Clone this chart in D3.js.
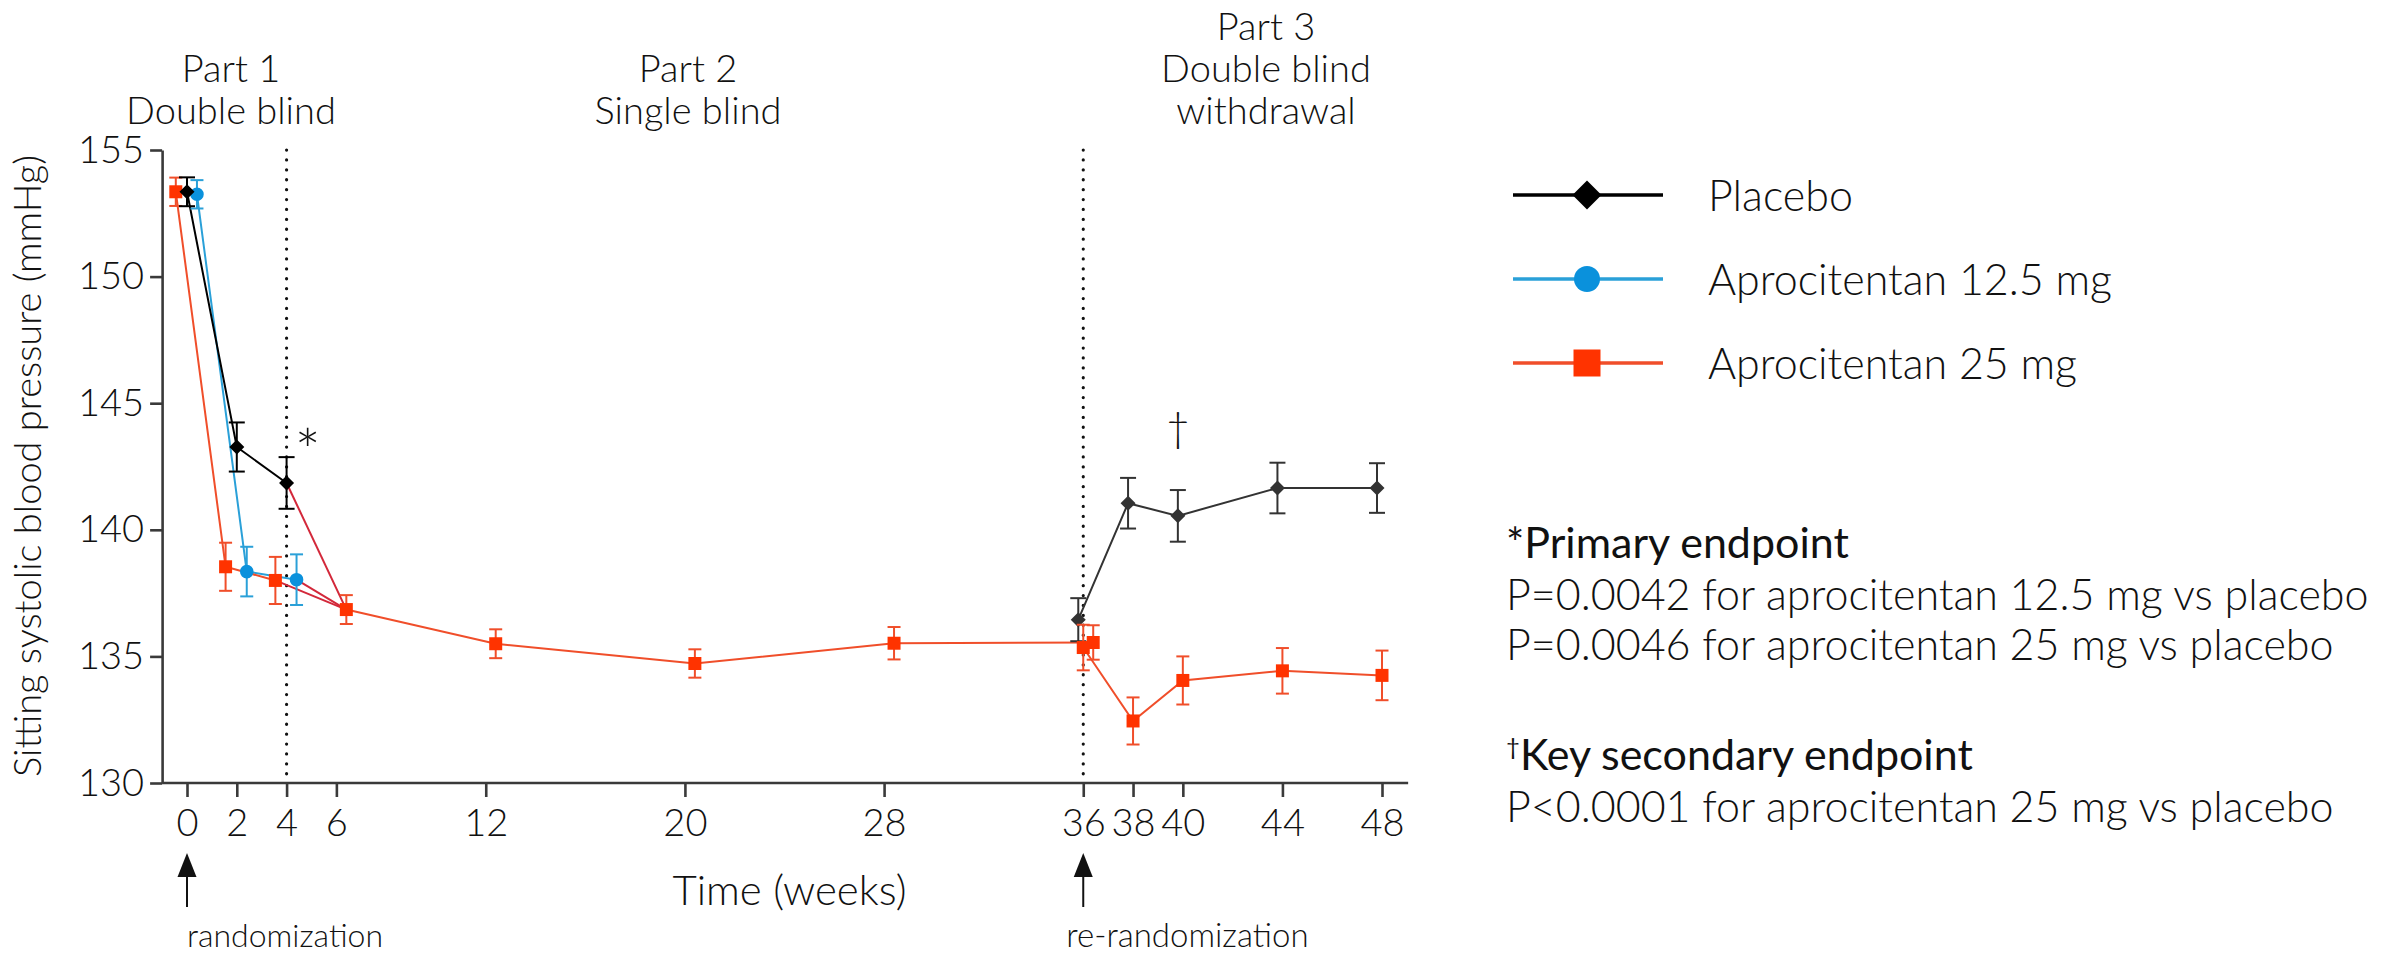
<!DOCTYPE html>
<html>
<head>
<meta charset="utf-8">
<title>Aprocitentan sitting SBP</title>
<script src="https://d3js.org/d3.v7.min.js"></script>
<style>
  body { margin: 0; background: #fff; }
  text { font-family: Lato, "Open Sans", sans-serif; fill: #111; }
</style>
</head>
<body>
<script>
// ---- data ----
var xTicks = [0, 2, 4, 6, 12, 20, 28, 36, 38, 40, 44, 48];
var yTicks = [130, 135, 140, 145, 150, 155];

// Part 1, double blind
var part1Weeks = [0, 2, 4];
var placeboP1 = [153.35, 143.27, 141.85];
var placeboP1Se = [0.57, 0.97, 1.02];
var apro125P1 = [153.25, 138.35, 138.03];
var apro125P1Se = [0.56, 0.98, 1.0];
var apro25P1 = [153.35, 138.54, 138.0];
var apro25P1Se = [0.56, 0.95, 0.93];

// Part 2, single blind (everyone on 25 mg)
var part2Weeks = [6, 12, 20, 28, 36];
var apro25P2 = [136.85, 135.5, 134.72, 135.52, 135.55];
var apro25P2Se = [0.57, 0.57, 0.56, 0.64, 0.68];

// Part 3, double blind withdrawal
var part3Weeks = [36, 38, 40, 44, 48];
var placeboP3 = [136.45, 141.05, 140.55, 141.65, 141.65];
var placeboP3Se = [0.85, 1.0, 1.02, 1.0, 0.98];
var apro25P3 = [135.35, 132.45, 134.05, 134.43, 134.25];
var apro25P3Se = [0.9, 0.93, 0.95, 0.9, 0.98];

var legendLabels = ["Placebo", "Aprocitentan 12.5 mg", "Aprocitentan 25 mg"];
var partLabels = [["Part 1", "Double blind"], ["Part 2", "Single blind"], ["Part 3", "Double blind", "withdrawal"]];

// ---- basic setting ----
var width = 2397, height = 956;
var red = "#f04e2a", redFill = "#ff3300", blue = "#2aa0d8", blueFill = "#0a91dc", dark = "#333";

var x = d3.scaleLinear().domain([0, 48]).range([187, 1382]);
var y = d3.scaleLinear().domain([130, 155]).range([783, 150]);

var svg = d3.select("body").append("svg")
  .attr("width", width)
  .attr("height", height);

function pts(weeks, vals, se, shift) {
  return weeks.map(function(w, i) { return {w: w + shift, v: vals[i], se: se[i]}; });
}

var series = [
  {p: pts(part1Weeks, apro125P1, apro125P1Se, 0.4), line: blue, err: blue, fill: blueFill, mark: "circle"},
  {p: pts(part1Weeks, apro25P1, apro25P1Se, -0.45), line: red, err: red, fill: redFill, mark: "square"},
  {p: pts(part1Weeks, placeboP1, placeboP1Se, 0), line: "#000", err: "#000", fill: "#000", mark: "diamond"},
  {p: pts(part3Weeks, placeboP3, placeboP3Se, -0.2), line: dark, err: dark, fill: dark, mark: "diamond"},
  {p: pts(part2Weeks, apro25P2, apro25P2Se, 0.4), line: red, err: red, fill: redFill, mark: "square"},
  {p: pts(part3Weeks, apro25P3, apro25P3Se, 0), line: red, err: red, fill: redFill, mark: "square"}
];

function markPath(type, s) {
  if (type === "diamond") return "M0," + (-s) + "L" + s + ",0L0," + s + "L" + (-s) + ",0Z";
  if (type === "square") return "M" + (-s) + "," + (-s) + "h" + (2 * s) + "v" + (2 * s) + "h" + (-2 * s) + "Z";
  return d3.symbol(d3.symbolCircle, Math.PI * s * s)();
}
var markSize = {diamond: 7.5, square: 6.5, circle: 6.8};

// dotted separators at week 4 and week 36
svg.selectAll(".sep")
  .data([4, 36])
  .enter().append("line")
  .attr("x1", function(d) { return x(d); })
  .attr("x2", function(d) { return x(d); })
  .attr("y1", y(155))
  .attr("y2", y(130))
  .attr("stroke", "#111")
  .attr("stroke-width", 3.2)
  .attr("stroke-linecap", "round")
  .attr("stroke-dasharray", "0.1,9.8");

// axes
var yAxis = d3.axisLeft(y).tickValues(yTicks).tickSize(12).tickPadding(6).tickSizeOuter(0);
var xAxis = d3.axisBottom(x).tickValues(xTicks).tickSize(14).tickPadding(12).tickSizeOuter(0);

var gy = svg.append("g").attr("transform", "translate(" + x(-1) + ",0)").call(yAxis);
var gx = svg.append("g").attr("transform", "translate(0," + y(130) + ")").call(xAxis);
gx.select(".domain").attr("d", "M" + x(-1) + ",0H" + x(49.05));
[gx, gy].forEach(function(g) {
  g.selectAll(".domain, .tick line").attr("stroke", "#3a3a3a").attr("stroke-width", 2.6);
  g.selectAll("text").attr("font-size", 38).attr("font-weight", 300).attr("fill", "#111")
    .style("font-family", "Lato, 'Open Sans', sans-serif");
});

// lines
var line = d3.line().x(function(d) { return x(d.w); }).y(function(d) { return y(d.v); });

// part 1 arms all move on to the first part 2 point
var joins = [series[0], series[1], series[2]].map(function(s) {
  return [s.p[s.p.length - 1], series[4].p[0]];
});
svg.selectAll(".join")
  .data(joins)
  .enter().append("path")
  .attr("d", line)
  .attr("fill", "none")
  .attr("stroke", "#d3283a")
  .attr("stroke-width", 2);

svg.selectAll(".serie")
  .data(series)
  .enter().append("path")
  .attr("d", function(s) { return line(s.p); })
  .attr("fill", "none")
  .attr("stroke", function(s) { return s.line; })
  .attr("stroke-width", 2);

// error bars and markers
series.forEach(function(s) {
  var g = svg.append("g");
  var cap = s.mark === "diamond" ? 8 : 6.5;
  var eb = g.selectAll(".eb").data(s.p).enter().append("g")
    .attr("stroke", s.err).attr("stroke-width", 2).attr("fill", "none");
  eb.append("line")
    .attr("x1", function(d) { return x(d.w); }).attr("x2", function(d) { return x(d.w); })
    .attr("y1", function(d) { return y(d.v + d.se); }).attr("y2", function(d) { return y(d.v - d.se); });
  eb.append("line")
    .attr("x1", function(d) { return x(d.w) - cap; }).attr("x2", function(d) { return x(d.w) + cap; })
    .attr("y1", function(d) { return y(d.v + d.se); }).attr("y2", function(d) { return y(d.v + d.se); });
  eb.append("line")
    .attr("x1", function(d) { return x(d.w) - cap; }).attr("x2", function(d) { return x(d.w) + cap; })
    .attr("y1", function(d) { return y(d.v - d.se); }).attr("y2", function(d) { return y(d.v - d.se); });
  g.selectAll(".mk").data(s.p).enter().append("path")
    .attr("transform", function(d) { return "translate(" + x(d.w) + "," + y(d.v) + ")"; })
    .attr("d", markPath(s.mark, markSize[s.mark]))
    .attr("fill", s.fill);
});

// significance marks
svg.append("text").attr("x", x(4.85)).attr("y", 474).attr("font-size", 62).attr("font-weight", 300)
  .attr("text-anchor", "middle").text("*");
svg.append("text").attr("x", x(39.8)).attr("y", 442).attr("font-size", 42).attr("font-weight", 300)
  .attr("text-anchor", "middle").text("\u2020");

// part headings
var partX = [231, 688, 1266];
partLabels.forEach(function(lines, i) {
  var t = svg.append("text").attr("text-anchor", "middle").attr("font-size", 38).attr("font-weight", 300);
  var top = 124 - (lines.length - 1) * 42;
  lines.forEach(function(l, j) {
    t.append("tspan").attr("x", partX[i]).attr("y", top + j * 42).text(l);
  });
});

// axis titles
svg.append("text").attr("x", x(24.2)).attr("y", 905).attr("text-anchor", "middle")
  .attr("font-size", 42).attr("font-weight", 300).text("Time (weeks)");
svg.append("text").attr("transform", "translate(41,466) rotate(-90)").attr("text-anchor", "middle")
  .attr("font-size", 38).attr("font-weight", 300).text("Sitting systolic blood pressure (mmHg)");

// randomization arrows
[[0, "randomization", 0, 32], [36, "re-randomization", -17, 33]].forEach(function(a) {
  var ax = x(a[0]);
  svg.append("line").attr("x1", ax).attr("x2", ax).attr("y1", 870).attr("y2", 907)
    .attr("stroke", "#111").attr("stroke-width", 2);
  svg.append("path").attr("d", "M" + ax + ",853L" + (ax + 9.5) + ",877L" + (ax - 9.5) + ",877Z").attr("fill", "#111");
  svg.append("text").attr("x", ax + a[2]).attr("y", 947).attr("font-size", a[3]).attr("font-weight", 300).text(a[1]);
});

// legend
var legendMarks = ["diamond", "circle", "square"];
var legendLine = ["#000", blue, red];
var legendFill = ["#000", blueFill, redFill];
var legendSize = {diamond: 14.5, circle: 13, square: 13.5};
var lg = svg.selectAll(".lg").data(legendLabels).enter().append("g")
  .attr("transform", function(d, i) { return "translate(1513," + (195 + i * 84) + ")"; });
lg.append("line").attr("x1", 0).attr("x2", 150).attr("y1", 0).attr("y2", 0)
  .attr("stroke", function(d, i) { return legendLine[i]; }).attr("stroke-width", 3.5);
lg.append("path").attr("transform", "translate(74,0)")
  .attr("d", function(d, i) { return markPath(legendMarks[i], legendSize[legendMarks[i]]); })
  .attr("fill", function(d, i) { return legendFill[i]; });
lg.append("text").attr("x", 195).attr("y", 16).attr("font-size", 43).attr("font-weight", 300)
  .text(function(d) { return d; });

// footnotes
var notes = [
  {y: 558, head: true, mark: "*", text: "Primary endpoint"},
  {y: 610, text: "P=0.0042 for aprocitentan 12.5 mg vs placebo"},
  {y: 660, text: "P=0.0046 for aprocitentan 25 mg vs placebo"},
  {y: 770, head: true, mark: "\u2020", text: "Key secondary endpoint"},
  {y: 822, text: "P<0.0001 for aprocitentan 25 mg vs placebo"}
];
notes.forEach(function(n) {
  var t = svg.append("text").attr("x", 1506).attr("y", n.y).attr("font-size", 43)
    .attr("font-weight", n.head ? 400 : 300);
  if (n.mark === "\u2020") {
    t.append("tspan").attr("font-size", 24).attr("dy", -15).text(n.mark);
    t.append("tspan").attr("dy", 15).text(n.text);
  } else if (n.mark) {
    t.append("tspan").text(n.mark + n.text);
  } else {
    t.text(n.text);
  }
});
</script>
</body>
</html>
